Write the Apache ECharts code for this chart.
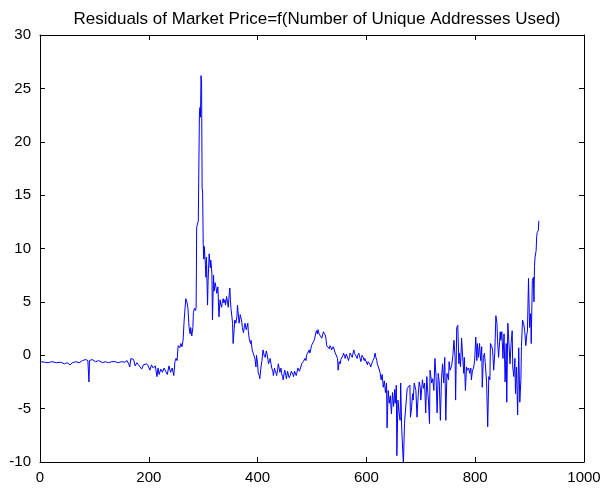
<!DOCTYPE html>
<html>
<head>
<meta charset="utf-8">
<script src="https://cdn.jsdelivr.net/npm/echarts@6/dist/echarts.min.js"></script>
<style>html,body{margin:0;padding:0;background:#fff;}#c{width:604px;height:489px;}</style>
</head>
<body>
<div id="c"></div>
<script>
const xSeg1 = [1,8,15,22,30,38,45,50,55,60,66,72,78,84,88,90,91,96,102,108,115,120,126,132,138,144,150,156,160,163,165,167,169,172,175,178,181,184,187,190,193,196,199,202,205,208,212,215,217,219,222,225,228,231,234,237,240,243,246,248,250,252];
const ySeg1 = [-0.6,-0.65,-0.7,-0.6,-0.7,-0.65,-0.8,-0.7,-0.9,-0.7,-0.6,-0.7,-0.5,-0.4,-0.5,-2.5,-0.5,-0.4,-0.6,-0.5,-0.7,-0.6,-0.7,-0.6,-0.6,-0.7,-0.6,-0.65,-0.5,-0.8,-1.1,-0.3,-0.2,-0.4,-1.0,-0.7,-0.9,-0.8,-1.3,-0.9,-1.0,-0.8,-1.0,-1.4,-0.9,-1.2,-1.0,-2.0,-1.2,-1.8,-1.3,-1.6,-1.2,-1.5,-1.8,-1.0,-1.6,-1.2,-1.9,-0.6,-0.3,-0.5];

const xSeg2 = [254,257,259,261,263,265,268,270,272,274,276,277,279,281,282,284,286,287,288,290,291,293,294,295,296,297,298,299,300,301,302,304,305,306,308,309,311,313,314,316,317,319,320,322,324,325,327,329,331,332,334,335,337,338,340,341,343,345,346,348,349,350,351,353,354,355,357,358,360,362,363,365,366,368,369,371,372,374,376,377,379,380,382,383,385,387,388,390,392,394,395,397,398,400,401,403,404,406,408,410,412,414,416,417,419,420,422,423,425,426,428,429,431,432,434,435,437,438,440,441,443,444,446,447,449,450,452,453,455,456,458,460,462,463,465,466,468,469,471,472,474,475,477,478,480,481,483,484,486,487,489,490,492,493,495,496,498,499,501,502,504,505,507,508,510,511,513,515,516,518,520,521,523,525,526,527,529,530,532,533,535,536,538,539,541,542,544,545,547,548,550,552,553,555,557,558,560,561,563,564,566,567,569,570,572,574,575,577,578,580,581,583,584,586,588,590,591,592,594,596,597,599,600,602,603,605,606,608,609,611,612,614,616,617,619,620,622];
const ySeg2 = [0.9,0.7,1.1,0.8,1.4,3.3,5.3,5.0,4.4,2.6,2.0,2.6,1.8,2.6,4.0,4.4,4.2,4.5,12.0,12.4,12.6,22.5,23.2,22.3,26.2,25.5,15.7,15.2,10.5,9.0,10.2,8.5,7.3,9.2,4.7,7.0,9.5,8.2,8.9,7.7,3.3,7.5,6.0,6.8,6.2,5.8,6.4,3.6,5.2,4.8,4.5,5.0,5.3,4.9,5.2,4.7,5.5,4.9,4.5,5.8,6.3,5.2,4.4,3.5,3.0,1.1,2.5,3.3,3.0,3.6,4.7,3.6,3.0,3.8,3.6,3.1,2.6,2.1,2.8,3.0,2.4,2.6,3.0,2.2,1.4,1.1,1.4,0.5,0.2,0.3,-0.3,-1.1,0.0,-0.8,-1.6,-1.9,-2.2,-1.2,-0.5,0.5,0.0,-0.2,0.4,0.2,-0.4,-0.8,-0.5,-0.3,-0.9,-1.2,-1.5,-1.9,-1.2,-1.4,-1.7,-1.9,-1.3,-0.8,-1.3,-1.6,-1.2,-1.7,-2.0,-2.3,-1.6,-1.4,-1.9,-2.2,-1.5,-1.6,-2.1,-1.9,-1.5,-1.4,-1.8,-2.0,-1.5,-1.6,-1.9,-1.7,-1.2,-1.2,-1.5,-1.4,-1.0,-0.8,-0.9,-0.6,-0.5,-0.3,-0.5,0.0,0.2,0.1,0.5,0.2,0.6,0.9,0.8,1.2,1.4,1.6,1.5,2.3,2.0,2.4,2.0,1.9,2.1,1.6,2.0,2.2,2.2,1.8,1.4,0.9,1.0,0.8,0.6,0.9,0.7,0.5,0.6,0.8,0.5,0.3,0.4,0.2,-0.3,-1.4,-0.6,-0.8,-0.4,-0.5,0.0,0.2,-0.1,-0.3,0.1,0.0,-0.3,-0.5,-0.1,0.2,0.0,-0.2,0.1,0.5,0.2,0.0,-0.1,-0.3,0.0,0.2,-0.2,-0.6,-0.3,0.0,-0.2,-0.5,-0.3,-0.2,-0.4,-0.9,-0.6,-0.5,-0.8,-1.1,-0.9,-0.8,-0.5,-0.3,0.2,-0.1,-0.5,-0.8,-1.1];

const xSeg3 = [625,627,629,631,633,635,637,638,640,642,644,646,648,650,652,653,655,656,658,660,662,663,665,668,670,672,675,677,680,681,683,685,686,688,691,693,695,697,699,700,703,705,707,709,711,713,714,716,717,720,722,724,726,728,730,732,734,736,738,740,742,744,746,748,751,752,754,757,759,761,763,764,766,768,770,771,773,775,777,779,780,782,784,786,788,790,792,793,795,797,799,801,803,804,806,808,810,812,813,815,817,819,821,823,825,827,828,830,832,834,836,838,840,841,843];
const ySeg3 = [-1.6,-2.3,-1.8,-3.0,-2.4,-3.5,-2.6,-6.8,-3.3,-4.5,-3.8,-5.5,-3.5,-4.8,-3.2,-4.5,-2.8,-9.4,-4.2,-5.4,-6.1,-2.6,-7.0,-10.2,-6.4,-6.4,-3.1,-3.0,-2.8,-5.8,-4.9,-3.6,-4.2,-2.6,-3.3,-5.8,-3.9,-2.5,-3.0,-4.2,-2.3,-3.1,-2.6,-5.4,-2.0,-3.6,-4.2,-6.4,-1.4,-2.6,-2.2,-3.3,-0.3,-2.0,-5.4,-1.7,-2.6,-6.1,-2.2,-0.8,-2.6,-0.2,-6.1,-1.7,-2.3,-0.6,-1.4,-0.9,0.0,1.4,-0.2,-4.2,2.6,2.8,-0.8,0.2,-1.1,1.6,-0.2,-1.7,-0.2,-3.3,-1.1,-1.4,-1.2,-1.7,-1.2,-2.3,-1.4,-1.2,-0.5,1.7,-0.5,1.1,-0.2,1.1,-0.5,0.8,-3.0,-0.2,0.2,-1.1,-2.6,-6.7,-2.0,-2.3,1.1,0.9,0.5,-1.4,0.2,3.7,3.0,1.4,-0.2];

const xSeg4 = [846,847,849,851,853,855,857,858,860,862,864,866,868,869,871,873,874,876,878,880,882,884,885,887,889,891,893,895,896,898,900,902,903,905,907,908,909,910,912,913,914,916,917];
const ySeg4 = [2.2,1.4,2.2,-0.3,2.0,-2.5,1.1,-4.4,3.0,3.1,-0.8,1.1,2.3,-1.1,-2.0,-0.3,-3.6,-1.1,-5.6,0.7,-4.4,-2.3,0.8,3.3,3.0,2.3,0.9,2.0,2.2,7.2,2.6,3.9,1.1,7.0,7.3,5.0,8.3,9.2,9.8,11.1,11.5,11.7,12.6];

const xTicks = {min: 0, max: 1000, interval: 200};
const yTicks = {min: -10, max: 30, interval: 5};
const titleText = 'Residuals of Market Price=f(Number of Unique Addresses Used)';

const xs = [].concat(xSeg1, xSeg2, xSeg3, xSeg4);
const ys = [].concat(ySeg1, ySeg2, ySeg3, ySeg4);
const points = xs.map((x, i) => [x, ys[i]]);

const font = "'Liberation Sans', Arial, sans-serif";
const axisCommon = {
  axisLine: {show: true, onZero: false, lineStyle: {color: '#000', width: 1}},
  axisTick: {show: true, inside: true, length: 5, lineStyle: {color: '#000', width: 1}},
  splitLine: {show: false}
};
const plain = v => String(v);

const chart = echarts.init(document.getElementById('c'), null, {renderer: 'canvas'});
chart.setOption({
  animation: false,
  backgroundColor: '#fff',
  title: {
    text: titleText,
    left: 312,
    top: 6,
    textAlign: 'center',
    textStyle: {fontFamily: font, fontSize: 17, fontWeight: 'normal', color: '#000'}
  },
  grid: {left: 40, right: 20, top: 35, bottom: 27, containLabel: false},
  xAxis: [
    Object.assign({
      type: 'value', position: 'bottom', min: xTicks.min, max: xTicks.max, interval: xTicks.interval,
      axisLabel: {show: true, color: '#000', fontFamily: font, fontSize: 15, margin: 8, formatter: plain, showMinLabel: true, showMaxLabel: true, hideOverlap: false}
    }, axisCommon),
    Object.assign({
      type: 'value', position: 'top', min: xTicks.min, max: xTicks.max, interval: xTicks.interval,
      axisLabel: {show: false}
    }, axisCommon)
  ],
  yAxis: [
    Object.assign({
      type: 'value', position: 'left', min: yTicks.min, max: yTicks.max, interval: yTicks.interval,
      axisLabel: {show: true, color: '#000', fontFamily: font, fontSize: 15, margin: 9, formatter: plain, showMinLabel: true, showMaxLabel: true}
    }, axisCommon),
    Object.assign({
      type: 'value', position: 'right', min: yTicks.min, max: yTicks.max, interval: yTicks.interval,
      axisLabel: {show: false}
    }, axisCommon)
  ],
  series: [{
    type: 'line',
    xAxisIndex: 0,
    yAxisIndex: 0,
    data: points,
    showSymbol: false,
    symbol: 'none',
    clip: true,
    lineStyle: {color: '#0000ff', width: 1},
    itemStyle: {color: '#0000ff'}
  }]
});
</script>
</body>
</html>
